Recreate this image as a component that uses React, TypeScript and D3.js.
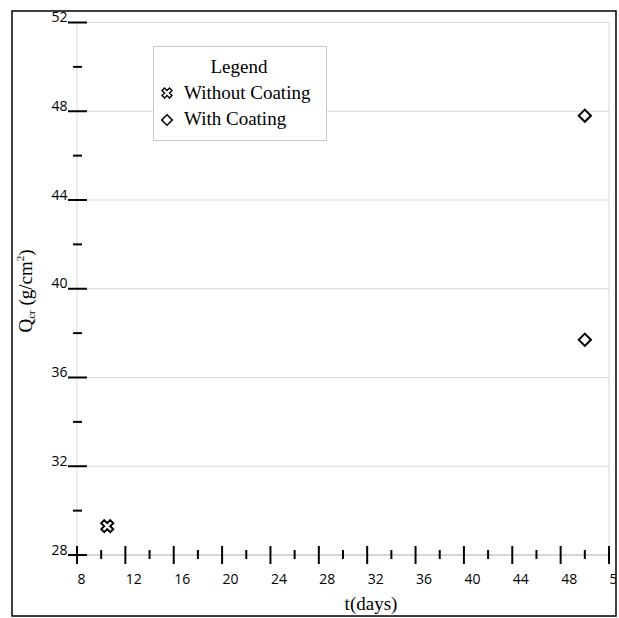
import React from "react";
import * as d3 from "d3";

const xTickLabels = [8, 12, 16, 20, 24, 28, 32, 36, 40, 44, 48, 52];
const yTickLabels = [28, 32, 36, 40, 44, 48, 52];
const xMinorTicks = [10, 14, 18, 22, 26, 30, 34, 38, 42, 46, 50];
const yMinorTicks = [30, 34, 38, 42, 46, 50];

const withoutCoatingT = [10.5];
const withoutCoatingQ = [29.3];
const withCoatingT = [50, 50];
const withCoatingQ = [47.8, 37.7];

const legendTitle = "Legend";
const seriesNames = ["Without Coating", "With Coating"];

export default function App() {
  const W = 619;
  const H = 618;
  const x = d3.scaleLinear().domain([8, 52]).range([77, 609]);
  const y = d3.scaleLinear().domain([28, 52]).range([555, 22.5]);
  const x0 = x(8);
  const y0 = y(28);
  const grid = "#d9d9d9";
  const serif = "'Liberation Serif', 'Times New Roman', serif";
  const sans = "'Open Sans', 'Noto Sans', sans-serif";

  const crossPath = d3.symbol(d3.symbolCross, 90)() as string;
  const crossSmall = d3.symbol(d3.symbolCross, 62)() as string;
  const diamondPath = d3.symbol(d3.symbolSquare, 74)() as string;
  const diamondSmall = d3.symbol(d3.symbolSquare, 56)() as string;

  return (
    <svg
      width={W}
      height={H}
      style={{ position: "absolute", left: 0, top: 0, background: "#fff" }}
    >
      <defs>
        <clipPath id="outer">
          <rect x={12} y={11} width={604} height={605} />
        </clipPath>
      </defs>
      <rect x={0} y={0} width={W} height={H} fill="#fff" />
      <g clipPath="url(#outer)">
        {/* gridlines */}
        {yTickLabels.map((v) => (
          <line key={"g" + v} x1={x0} x2={x(52)} y1={y(v)} y2={y(v)} stroke={grid} strokeWidth={1} />
        ))}
        <line x1={x0} x2={x0} y1={y(52)} y2={y0} stroke={grid} strokeWidth={1} />
        <line x1={x(52)} x2={x(52)} y1={y(52)} y2={y0} stroke={grid} strokeWidth={1} />
        <line x1={x0} x2={x(52)} y1={y0} y2={y0} stroke="#bfbfbf" strokeWidth={1} />

        {/* y ticks */}
        {yTickLabels.map((v) => (
          <g key={"yt" + v}>
            <line x1={68} x2={87} y1={y(v)} y2={y(v)} stroke="#000" strokeWidth={2} />
            <text x={67.5} y={y(v) - 0.5} textAnchor="end" fontFamily={sans} fontSize={14} fill="#000">
              {v}
            </text>
          </g>
        ))}
        {yMinorTicks.map((v) => (
          <line key={"ym" + v} x1={73} x2={82} y1={y(v)} y2={y(v)} stroke="#000" strokeWidth={2} />
        ))}

        {/* x ticks */}
        {xTickLabels.map((v) => (
          <g key={"xt" + v}>
            <line x1={x(v)} x2={x(v)} y1={y0 - 9} y2={y0 + 9} stroke="#000" strokeWidth={2} />
            <text x={x(v) + 0.5} y={584} textAnchor="start" fontFamily={sans} fontSize={14} fill="#000">
              {v}
            </text>
          </g>
        ))}
        {xMinorTicks.map((v) => (
          <line key={"xm" + v} x1={x(v)} x2={x(v)} y1={y0 - 5} y2={y0 + 4} stroke="#000" strokeWidth={2} />
        ))}

        {/* data */}
        {withoutCoatingT.map((t, i) => (
          <path
            key={"wo" + i}
            d={crossPath}
            transform={`translate(${x(t)},${y(withoutCoatingQ[i])}) rotate(45)`}
            fill="#fff"
            stroke="#000"
            strokeWidth={2}
          />
        ))}
        {withCoatingT.map((t, i) => (
          <path
            key={"w" + i}
            d={diamondPath}
            transform={`translate(${x(t)},${y(withCoatingQ[i])}) rotate(45)`}
            fill="#fff"
            stroke="#000"
            strokeWidth={2}
          />
        ))}

        {/* legend */}
        <rect x={153.5} y={46.5} width={173} height={94} fill="#fff" stroke="#c8c8c8" strokeWidth={1} />
        <text x={239} y={73} textAnchor="middle" fontFamily={serif} fontSize={19} fill="#000">
          {legendTitle}
        </text>
        <path d={crossSmall} transform="translate(167,93) rotate(45)" fill="#fff" stroke="#000" strokeWidth={1.4} />
        <text x={184} y={99} fontFamily={serif} fontSize={19} fill="#000">
          {seriesNames[0]}
        </text>
        <path d={diamondSmall} transform="translate(167,120) rotate(45)" fill="#fff" stroke="#000" strokeWidth={1.5} />
        <text x={184} y={125} fontFamily={serif} fontSize={19} fill="#000">
          {seriesNames[1]}
        </text>

        {/* axis titles */}
        <text x={371} y={610} textAnchor="middle" fontFamily={serif} fontSize={19} fill="#000">
          t(days)
        </text>
        <text
          transform="translate(32,291) rotate(-90)"
          textAnchor="middle"
          fontFamily={serif}
          fontSize={19}
          fill="#000"
        >
          Q
          <tspan fontSize={11} dy={3}>cr</tspan>
          <tspan dy={-3}> (g/cm</tspan>
          <tspan fontSize={11} dy={-8}>2</tspan>
          <tspan dy={8}>)</tspan>
        </text>
      </g>
      <rect x={12} y={11} width={604} height={605} fill="none" stroke="#000" strokeWidth={1.5} />
    </svg>
  );
}
